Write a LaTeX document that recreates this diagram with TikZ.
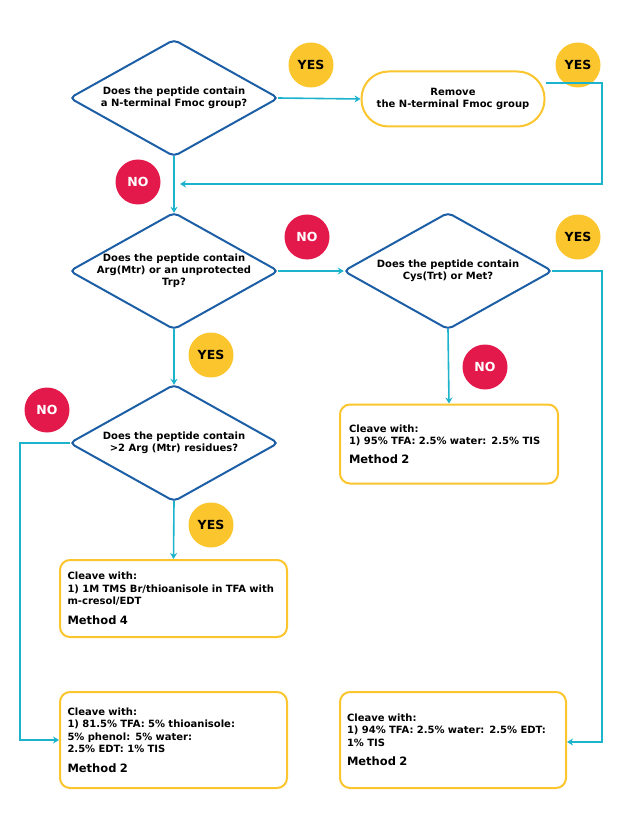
\documentclass[tikz,border=0pt]{standalone}
\usepackage{fontspec}
\setmainfont{DejaVu Sans}
\usetikzlibrary{arrows.meta}

\definecolor{qblue}{HTML}{1D5FA6}
\definecolor{qyellow}{HTML}{FBC52D}
\definecolor{qcyan}{HTML}{1CB3CC}
\definecolor{qred}{HTML}{E4194B}

\tikzset{
	question/.style = {rectangle, minimum width = 208pt, minimum height = 116pt, inner sep = 0pt, align = center,
		font = \bfseries\fontsize{10}{12}\selectfont},
	rhomb/.style = {draw = qblue, line width = 2pt, rounded corners = 5pt},
	action/.style = {draw = qyellow, line width = 2pt, rounded corners = 10pt, fill = white,
		inner sep = 0pt, font = \bfseries\fontsize{10}{12.5}\selectfont},
	yes/.style = {circle, fill = qyellow, minimum size = 45pt, inner sep = 0pt,
		font = \bfseries\fontsize{12.5}{13}\selectfont},
	no/.style = {circle, fill = qred, text = white, minimum size = 45pt, inner sep = 0pt,
		font = \bfseries\fontsize{12.5}{13}\selectfont},
	flow/.style = {draw = qcyan, line width = 1.6pt, -{Stealth[length = 6pt, width = 7pt]}},
}

\begin{document}
\begin{tikzpicture}[x = 1pt, y = -1pt]
		\useasboundingbox (0,0) rectangle (620,826);
		
		% questions
		\node [question] (fmoc) at (174,98) {Does the peptide contain\\a N-terminal Fmoc group?};
		\node [question] (mtr) at (174,271) {Does the peptide contain\\Arg(Mtr) or an unprotected\\Trp?};
		\node [question] (cys) at (448,271) {Does the peptide contain\\Cys(Trt) or Met?};
		\node [question] (arg) at (174,443) {Does the peptide contain\\>2 Arg (Mtr) residues?};
		\foreach \q in {fmoc, mtr, cys, arg}
			\draw [rhomb] (\q.north) -- (\q.east) -- (\q.south) -- (\q.west) -- cycle;
		
		% actions
		\node [action, rounded corners = 27pt, minimum width = 183pt, minimum height = 55pt, align = center] (remove) at (453,99) {Remove\\the N-terminal Fmoc group};
		\node [action, minimum width = 218pt, minimum height = 79pt, text width = 200pt, align = left] (methodA) at (449,444)
			{Cleave with:\\1) 95\% TFA: 2.5\% water: 2.5\% TIS\\[6pt]{\fontsize{11.5}{13}\selectfont Method 2}};
		\node [action, minimum width = 227pt, minimum height = 77pt, text width = 212pt, align = left] (methodB) at (173.5,598.5)
			{Cleave with:\\1) 1M TMS Br/thioanisole in TFA with\\m-cresol/EDT\\[7pt]{\fontsize{11.5}{13}\selectfont Method 4}};
		\node [action, minimum width = 227pt, minimum height = 96pt, text width = 212pt, align = left] (methodC) at (173.5,740)
			{Cleave with:\\1) 81.5\% TFA: 5\% thioanisole:\\5\% phenol: 5\% water:\\2.5\% EDT: 1\% TIS\\[7pt]{\fontsize{11.5}{13}\selectfont Method 2}};
		\node [action, minimum width = 226pt, minimum height = 96pt, text width = 212pt, align = left] (methodD) at (453,740)
			{Cleave with:\\1) 94\% TFA: 2.5\% water: 2.5\% EDT:\\1\% TIS\\[7pt]{\fontsize{11.5}{13}\selectfont Method 2}};
		
		% badges
		\node [yes] (yesA) at (311,65) {YES};
		\node [yes] (yesB) at (578,65) {YES};
		\node [no] (noA) at (138,182) {NO};
		\node [no] (noB) at (307,237) {NO};
		\node [yes] (yesC) at (578,237) {YES};
		\node [yes] (yesD) at (211,355) {YES};
		\node [no] (noC) at (485,367) {NO};
		\node [no] (noD) at (47,410) {NO};
		\node [yes] (yesE) at (211,525) {YES};
		
		% connectors
		\coordinate (join) at (174,184);
		\draw [flow] (fmoc.east) -- (remove.west);
		\draw [flow] (remove.east |- 0,83) -- (602,83) -- (602,184) -- ([xshift = 6pt]join);
		\draw [flow] (fmoc.south) -- (mtr.north);
		\draw [flow] (mtr.east) -- (cys.west);
		\draw [flow] (cys.east) -- (602,271) -- (602,742) -- (methodD.east |- 0,742);
		\draw [flow] (cys.south) -- (methodA.north);
		\draw [flow] (mtr.south) -- (arg.north);
		\draw [flow] (arg.south) -- (methodB.north);
		\draw [flow] (arg.west) -- (20,443) -- (20,740) -- (methodC.west);
	\end{tikzpicture}
\end{document}
